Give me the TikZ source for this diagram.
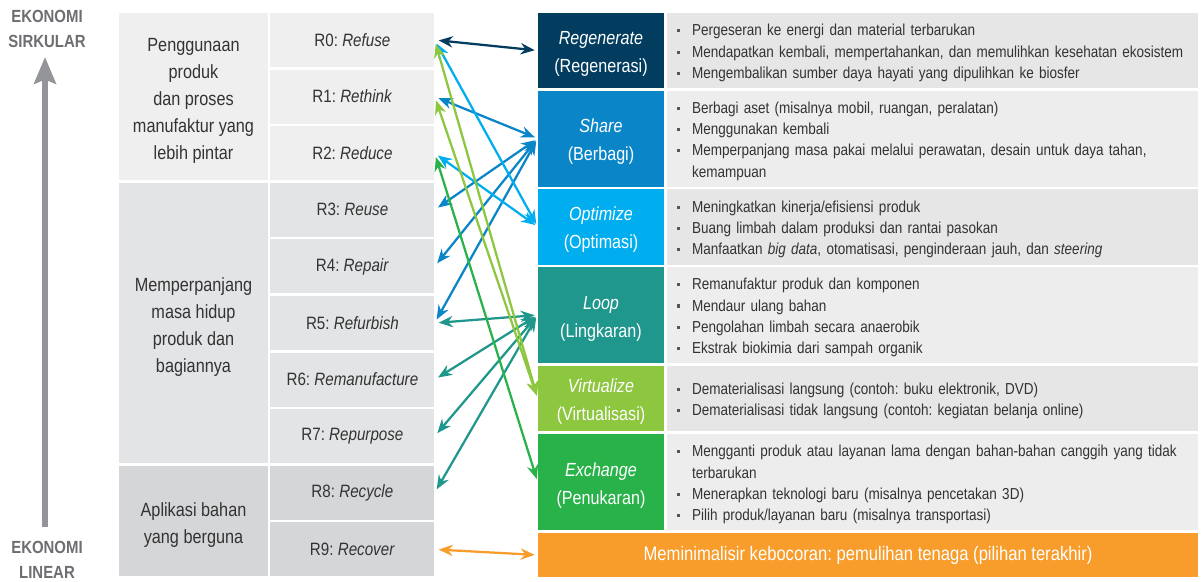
\documentclass[tikz,border=0pt]{standalone}
\usepackage{fontspec}
\setmainfont{Liberation Sans}[FakeStretch=0.85]
\usetikzlibrary{arrows.meta}
\frenchspacing

\definecolor{regenc}{HTML}{023D60}
\definecolor{sharec}{HTML}{0A86C8}
\definecolor{optimc}{HTML}{00AEEF}
\definecolor{loopc}{HTML}{20978C}
\definecolor{virtc}{HTML}{8DC63F}
\definecolor{exchc}{HTML}{29B24A}
\definecolor{minimc}{HTML}{F89D2B}
\definecolor{greyA}{HTML}{EFEFEF}
\definecolor{greyB}{HTML}{E3E4E6}
\definecolor{greyC}{HTML}{D5D6D8}
\definecolor{descA}{HTML}{E6E6E7}
\definecolor{descB}{HTML}{EDEDED}
\definecolor{txtgrey}{HTML}{333333}
\definecolor{ekogrey}{HTML}{6D6E71}
\definecolor{axisgrey}{HTML}{939598}
\definecolor{bulgrey}{HTML}{555555}

% one pixel of the layout grid
\newdimen\pxu \pxu=0.025cm
\newcommand{\itm}{\makebox[15\pxu][l]{\textcolor{bulgrey}{\rule[0.22em]{2.2pt}{2.2pt}}}}
% extra room above the first line, so the block sits a bit lower
\newcommand{\grppad}{\rule{0pt}{15.6pt}}
\newcommand{\catpad}{\rule{0pt}{14.2pt}}

\tikzset{
  grpbox/.style={fill=#1, minimum width=149\pxu, inner sep=0pt, align=center,
    text=txtgrey, font=\fontsize{13.6}{19.2}\selectfont},
  rbox/.style={fill=#1, minimum width=164\pxu, minimum height=54\pxu, inner sep=0pt,
    text=txtgrey, font=\fontsize{12.7}{15}\selectfont},
  catbox/.style={fill=#1, minimum width=126\pxu, inner sep=0pt, align=center,
    text=white, font=\fontsize{13.5}{19.9}\selectfont},
  descbox/.style={fill=#1, text width=511\pxu, inner xsep=10\pxu, inner ysep=0pt,
    align=left, text=txtgrey, font=\fontsize{11.3}{15.15}\selectfont,
    execute at begin node={\rule{0pt}{11.8pt}}},
  eko/.style={align=center, text=ekogrey, font=\bfseries\fontsize{12.5}{17.8}\selectfont},
  link/.style={draw=#1, line width=1.6pt,
    {Stealth[length=10pt,width=8pt]}-{Stealth[length=10pt,width=8pt]},
    shorten <=4\pxu, shorten >=3\pxu}
}

\begin{document}
\begin{tikzpicture}[x=0.025cm, y=-0.025cm]
\useasboundingbox[fill=white] (0,0) rectangle (1203,581);

% axis on the left
\node[eko] (sirkular) at (47,29) {EKONOMI\\SIRKULAR};
\node[eko] (linear) at (47,560) {EKONOMI\\LINEAR};
\coordinate (axisBot) at (45,527);
\coordinate (axisTop) at (45,57);
\draw[axisgrey, line width=4.3pt, -{Stealth[length=19pt,width=15.5pt,inset=3pt]}] (axisBot) -- (axisTop);

% groups
\node[grpbox=greyA, minimum height=167.2\pxu] (grpSmart) at (193.5,96.6)
  {\grppad Penggunaan\\produk\\dan proses\\manufaktur yang\\lebih pintar};
\node[grpbox=greyB, minimum height=280.4\pxu] (grpLife) at (193.5,323)
  {\grppad Memperpanjang\\masa hidup\\produk dan\\bagiannya};
\node[grpbox=greyC, minimum height=110.6\pxu] (grpMat) at (193.5,521.1)
  {\grppad Aplikasi bahan\\yang berguna};

% R-strategies
\node[rbox=greyA] (r0) at (352.4,40) {R0: \textit{Refuse}};
\node[rbox=greyA] (r1) at (352.4,96.6) {R1: \textit{Rethink}};
\node[rbox=greyA] (r2) at (352.4,153.2) {R2: \textit{Reduce}};
\node[rbox=greyB] (r3) at (352.4,209.8) {R3: \textit{Reuse}};
\node[rbox=greyB] (r4) at (352.4,266.4) {R4: \textit{Repair}};
\node[rbox=greyB] (r5) at (352.4,323) {R5: \textit{Refurbish}};
\node[rbox=greyB] (r6) at (352.4,379.6) {R6: \textit{Remanufacture}};
\node[rbox=greyB] (r7) at (352.4,436.2) {R7: \textit{Repurpose}};
\node[rbox=greyC] (r8) at (352.4,492.8) {R8: \textit{Recycle}};
\node[rbox=greyC] (r9) at (352.4,549.4) {R9: \textit{Recover}};

% categories
\node[catbox=regenc, minimum height=75\pxu] (regen) at (601,50.5) {\catpad\textit{Regenerate}\\(Regenerasi)};
\node[catbox=sharec, minimum height=96\pxu] (share) at (601,138.5) {\catpad\textit{Share}\\(Berbagi)};
\node[catbox=optimc, minimum height=75.5\pxu] (optim) at (601,226.75) {\catpad\textit{Optimize}\\(Optimasi)};
\node[catbox=loopc, minimum height=96\pxu] (loop) at (601,315) {\catpad\textit{Loop}\\(Lingkaran)};
\node[catbox=virtc, minimum height=65\pxu] (virt) at (601,398.5) {\catpad\textit{Virtualize}\\(Virtualisasi)};
\node[catbox=exchc, minimum height=96\pxu] (exch) at (601,482) {\catpad\textit{Exchange}\\(Penukaran)};
\node[fill=minimc, minimum width=660\pxu, minimum height=44\pxu, text=white,
  font=\fontsize{13.9}{16}\selectfont] (minim) at (868,555)
  {Meminimalisir kebocoran: pemulihan tenaga (pilihan terakhir)};

% descriptions
\node[descbox=descA, minimum height=75\pxu] (dregen) at (932.5,50.5) {%
  \itm Pergeseran ke energi dan material terbarukan\\
  \itm Mendapatkan kembali, mempertahankan, dan memulihkan kesehatan ekosistem\\
  \itm Mengembalikan sumber daya hayati yang dipulihkan ke biosfer};
\node[descbox=descB, minimum height=96\pxu] (dshare) at (932.5,138.5) {%
  \itm Berbagi aset (misalnya mobil, ruangan, peralatan)\\
  \itm Menggunakan kembali\\
  \itm Memperpanjang masa pakai melalui perawatan, desain untuk daya tahan,\\
  \hspace*{15\pxu}kemampuan};
\node[descbox=descA, minimum height=75.5\pxu] (doptim) at (932.5,226.75) {%
  \itm Meningkatkan kinerja/efisiensi produk\\
  \itm Buang limbah dalam produksi dan rantai pasokan\\
  \itm Manfaatkan \textit{big data}, otomatisasi, penginderaan jauh, dan \textit{steering}};
\node[descbox=descB, minimum height=96\pxu] (dloop) at (932.5,315) {%
  \itm Remanufaktur produk dan komponen\\
  \itm Mendaur ulang bahan\\
  \itm Pengolahan limbah secara anaerobik\\
  \itm Ekstrak biokimia dari sampah organik};
\node[descbox=descA, minimum height=65\pxu] (dvirt) at (932.5,398.5) {%
  \itm Dematerialisasi langsung (contoh: buku elektronik, DVD)\\
  \itm Dematerialisasi tidak langsung (contoh: kegiatan belanja online)};
\node[descbox=descB, minimum height=96\pxu] (dexch) at (932.5,482) {%
  \itm Mengganti produk atau layanan lama dengan bahan-bahan canggih yang tidak\\
  \hspace*{15\pxu}terbarukan\\
  \itm Menerapkan teknologi baru (misalnya pencetakan 3D)\\
  \itm Pilih produk/layanan baru (misalnya transportasi)};

% links between R-strategies and categories
\draw[link=sharec] (r1.east) -- (share.west);
\draw[link=sharec] (r3.east) -- (share.west);
\draw[link=sharec] (r4.east) -- (share.west);
\draw[link=sharec] (r5.east) -- (share.west);
\draw[link=optimc] (r0.east) -- (optim.west);
\draw[link=optimc] (r2.east) -- (optim.west);
\draw[link=loopc] (r5.east) -- (loop.west);
\draw[link=loopc] (r6.east) -- (loop.west);
\draw[link=loopc] (r7.east) -- (loop.west);
\draw[link=loopc] (r8.east) -- (loop.west);
\draw[link=exchc] (r2.east) -- (exch.west);
\draw[link=virtc] (r0.east) -- (virt.west);
\draw[link=virtc] (r1.east) -- (virt.west);
\draw[link=regenc] (r0.east) -- (regen.west);
\draw[link=minimc] (r9.east) -- (minim.west);
\end{tikzpicture}
\end{document}
